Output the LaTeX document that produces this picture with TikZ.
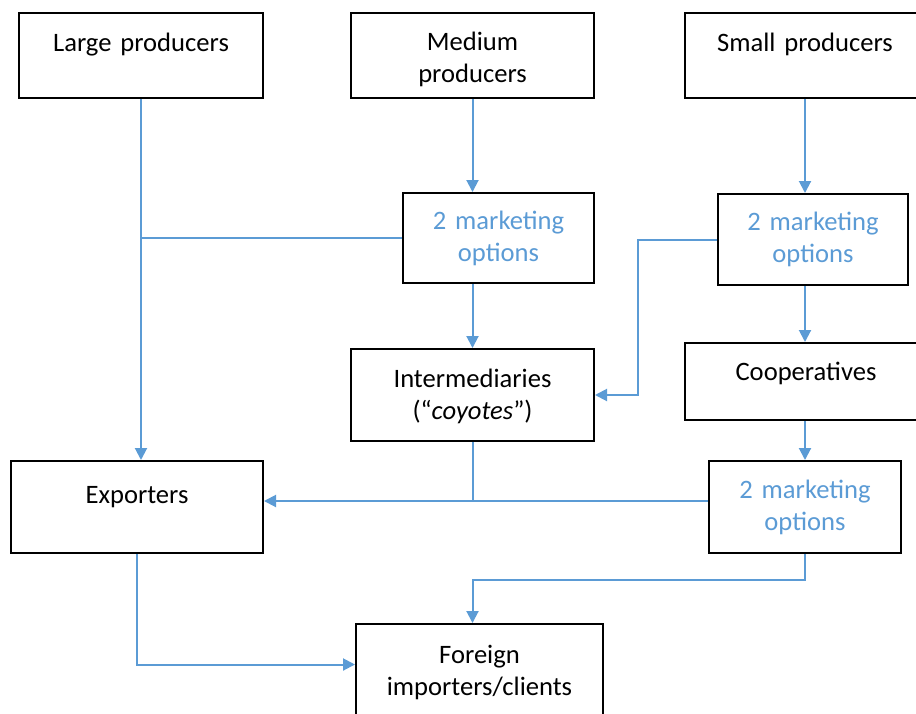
\documentclass[tikz,border=0pt]{standalone}
\usepackage{fontspec}
\setmainfont{Carlito}
\usepackage{tikz}
\usetikzlibrary{arrows.meta,positioning}
\definecolor{flowblue}{HTML}{5B9BD5}

\begin{document}
\begin{tikzpicture}[x=0.5pt,y=-0.5pt]
    \tikzset{box/.style={draw,rectangle,line width=1pt,inner sep=0pt,align=center,anchor=north west,
                         font=\fontsize{13.3}{16}\selectfont},
             opt/.style={box,text=flowblue},
             flow/.style={draw=flowblue,line width=1pt},
             arr/.style={flow,-{Triangle[length=6pt,width=6pt]}}}
    \useasboundingbox (0,0) rectangle (916,713);
    \node[box,text width=122pt,text height=19pt,text depth=23.5pt] (large) at (18,12) {Large producers};
    \node[box,text width=121.5pt,text height=18.5pt,text depth=24pt] (medium) at (350,12) {Medium\\producers};
    \node[box,text width=120pt,text height=19pt,text depth=23.5pt] (small) at (684,12) {Small producers};
    \node[opt,text width=95.5pt,text height=18pt,text depth=27pt] (midopt) at (402,192) {2 marketing\\options};
    \node[opt,text width=95pt,text height=18pt,text depth=27.5pt] (smallopt) at (717,193) {2 marketing\\options};
    \node[box,text width=121.5pt,text height=19pt,text depth=27pt] (inter) at (350,348) {Intermediaries\\(“\textit{coyotes}”)};
    \node[box,text width=121pt,text height=18.5pt,text depth=20pt] (coop) at (684,342) {Cooperatives};
    \node[box,text width=126pt,text height=21pt,text depth=25pt] (exp) at (10,460) {Exporters};
    \node[opt,text width=96pt,text height=18.5pt,text depth=27.5pt] (botopt) at (708,460) {2 marketing\\options};
    \node[box,text width=123.5pt,text height=19.5pt,text depth=29pt] (foreign) at (355,623) {Foreign\\importers/clients};

    \coordinate (join) at (473,501);

    \draw[arr] (large.south) -- (large.south |- exp.north);
    \draw[flow] (midopt.west) -- (midopt.west -| large.south);
    \draw[arr] (medium.south) -- (medium.south |- midopt.north);
    \draw[arr] (medium.south |- midopt.south) -- (medium.south |- inter.north);
    \draw[arr] (small.south) -- (small.south |- smallopt.north);
    \draw[arr] (small.south |- smallopt.south) -- (small.south |- coop.north);
    \draw[arr] (small.south |- coop.south) -- (small.south |- botopt.north);
    \draw[arr] (smallopt.west) -- ++(-79,0) |- (inter.east);
    \draw[flow] (inter.south) -- (inter.south |- join);
    \draw[arr] (botopt.west |- join) -- (exp.east |- join);
    \draw[arr] (botopt.south) -- ++(0,26) -| (inter.south |- foreign.north);
    \draw[arr] (exp.south) |- ([yshift=4pt]foreign.west);
\end{tikzpicture}
\end{document}
